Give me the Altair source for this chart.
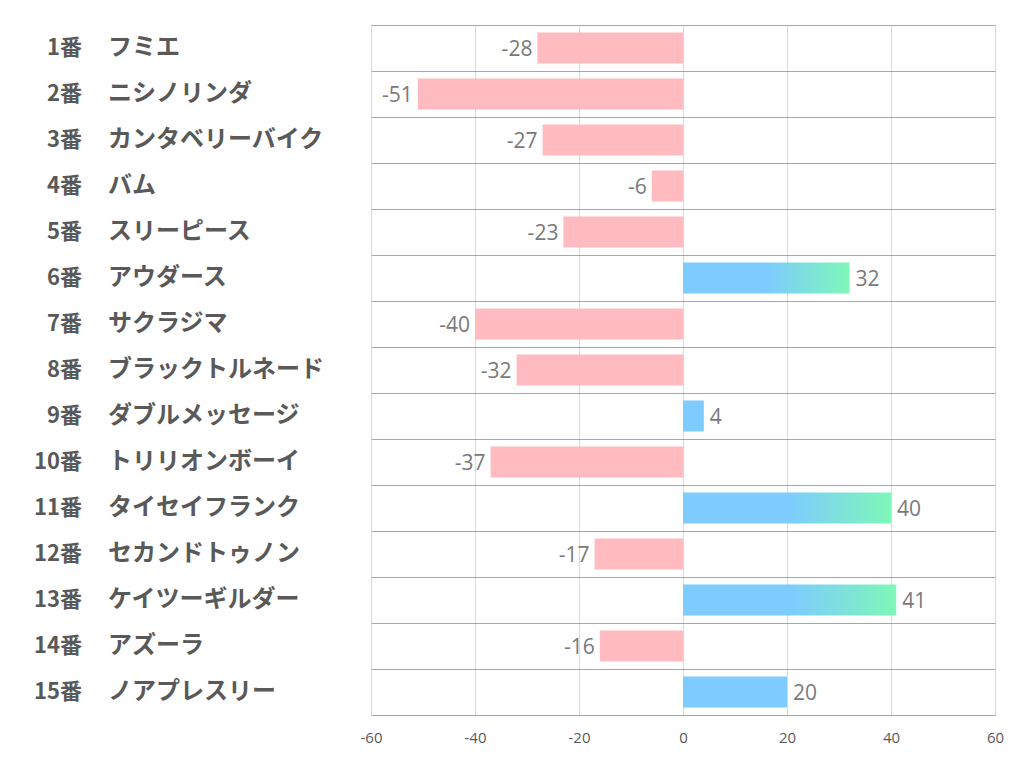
import altair as alt
import pandas as pd

nums = ["1番", "2番", "3番", "4番", "5番", "6番", "7番", "8番", "9番", "10番",
        "11番", "12番", "13番", "14番", "15番"]
names = ["フミエ", "ニシノリンダ", "カンタベリーバイク", "バム", "スリーピース",
         "アウダース", "サクラジマ", "ブラックトルネード", "ダブルメッセージ",
         "トリリオンボーイ", "タイセイフランク", "セカンドトゥノン",
         "ケイツーギルダー", "アズーラ", "ノアプレスリー"]
values = [-28, -51, -27, -6, -23, 32, -40, -32, 4, -37, 40, -17, 41, -16, 20]
ticks = [-60, -40, -20, 0, 20, 40, 60]

df = pd.DataFrame({"num": nums, "name": names, "value": values})
df["key"] = df["num"]
order = list(df["key"])

W, H = 624, 690
BLUE = "#7DCBFF"
GREEN = "#7EF7B8"
PINK = "#FFBBBF"

base = alt.Chart(df).transform_calculate(vlabel="'' + datum.value")
y = alt.Y("key:N", sort=order,
          scale=alt.Scale(paddingInner=0, paddingOuter=0),
          axis=alt.Axis(labels=False, ticks=False, domain=False, title=None,
                        grid=True, gridColor="#a6a6a6", gridWidth=1, bandPosition=0))
x = alt.X("value:Q", scale=alt.Scale(domain=[-60, 60], nice=False),
          axis=alt.Axis(values=ticks, title=None, grid=True, gridColor="#d9d9d9",
                        ticks=False, domainColor="#a6a6a6", labelColor="#595959",
                        labelFontSize=15, labelPadding=15, labelFlush=False,
                        labelExpr="'' + datum.value",
                        labelFont="Open Sans"))

neg = base.transform_filter("datum.value < 0").mark_bar(color=PINK, height=31).encode(
    x=x, x2=alt.datum(0), y=y)
pos_plain = base.transform_filter("datum.value >= 0 && datum.value < 30").mark_bar(
    color=BLUE, height=31).encode(x=x, x2=alt.datum(0), y=y)
grad = alt.Gradient(gradient="linear", x1=0, x2=1, y1=0, y2=0,
                    stops=[alt.GradientStop(color=BLUE, offset=0),
                           alt.GradientStop(color=BLUE, offset=0.5),
                           alt.GradientStop(color=GREEN, offset=1)])
pos_grad = base.transform_filter("datum.value >= 30").mark_bar(
    color=grad, height=31).encode(x=x, x2=alt.datum(0), y=y)

lab_neg = base.transform_filter("datum.value < 0").mark_text(
    align="right", baseline="middle", dx=-5, dy=2, fontSize=21, color="#7a7a7a",
    font="Open Sans").encode(x=x, y=y, text="vlabel:N")
lab_pos = base.transform_filter("datum.value >= 0").mark_text(
    align="left", baseline="middle", dx=6, dy=2, fontSize=21, color="#7a7a7a",
    font="Open Sans").encode(x=x, y=y, text="vlabel:N")

num_txt = base.mark_text(align="right", baseline="middle", fontSize=22,
                         fontWeight="bold", color="#595959",
                         font="Noto Sans CJK JP").encode(
    x=alt.value(-289), y=y, text="num:N")
name_txt = base.mark_text(align="left", baseline="middle", fontSize=24,
                          fontWeight="bold", color="#595959",
                          font="Noto Sans CJK JP").encode(
    x=alt.value(-263), y=y, text="name:N")

chart = alt.layer(neg, pos_plain, pos_grad, lab_neg, lab_pos, num_txt, name_txt).properties(
    width=W, height=H,
    autosize=alt.AutoSizeParams(type="none"),
    padding={"left": 363, "top": 17, "right": 19, "bottom": 59},
).configure_view(stroke=None).configure(background="white")

chart.save("out.html", embed_options={"renderer": "svg", "actions": False})
